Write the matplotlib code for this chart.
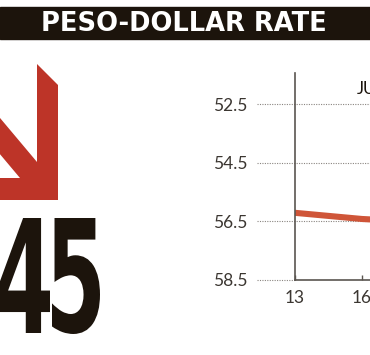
import matplotlib
matplotlib.use("Agg")
import matplotlib.pyplot as plt
from matplotlib.patches import Polygon, PathPatch, Rectangle
from matplotlib.textpath import TextPath
from matplotlib.font_manager import FontProperties
from matplotlib.transforms import Affine2D

# data
days = [13, 16, 17]
rate = [56.21, 56.42, 56.46]
y_ticks = [52.5, 54.5, 56.5, 58.5]
x_ticks = [13, 16]
title = "PESO-DOLLAR RATE"
month = "JUNE"
big_digits = ["4", "5"]

W, H = 370, 355
RED = "#bd3428"
LINE_RED = "#cf5538"
DARK = "#1c140c"
GRAY_TXT = "#3b3631"

fig = plt.figure(figsize=(W / 100, H / 100), dpi=100)

# overlay in pixel coords for decorations
deco = fig.add_axes([0, 0, 1, 1], zorder=0)
deco.set_xlim(0, W)
deco.set_ylim(H, 0)
deco.axis("off")

deco.add_patch(Rectangle((0, 7), W, 32, color=DARK))
deco.text(184, 24, title, color="white", fontsize=18.5, fontweight="bold",
          family="DejaVu Sans", ha="center", va="center")

# big arrow
s = 1.19
arrow = [(-30, 162 - 67 * s), (37, 162), (37, 64), (58, 85), (58, 200),
         (-30, 200), (-30, 178), (20, 178), (-30, 178 - 50 * s)]
deco.add_patch(Polygon(arrow, closed=True, color=RED, lw=0))

# big condensed digits, squeezed from a bold font
fp = FontProperties(family="DejaVu Sans", weight="bold")
boxes = [(-2, 50, 218, 333), (52, 100, 218, 334)]
for ch, (x0, x1, y0, y1) in zip(big_digits, boxes):
    tp = TextPath((0, 0), ch, prop=fp, size=1)
    ext = tp.get_extents()
    sx = (x1 - x0) / ext.width
    sy = (y1 - y0) / ext.height
    tr = Affine2D().translate(-ext.x0, -ext.y0).scale(sx, -sy).translate(x0, y1)
    deco.add_patch(PathPatch(tr.transform_path(tp), color=DARK, lw=0))

deco.text(357, 94, month, color=DARK, fontsize=12, family="Lato",
          ha="left", va="baseline")

# chart
ax = fig.add_axes([295 / W, 1 - 280 / H, 75 / W, 207 / H], zorder=1)
ax.patch.set_alpha(0)
ax.plot(days, rate, color=LINE_RED, lw=4.4, solid_capstyle="butt", clip_on=True)
ax.set_xlim(13, 13 + 75 / 22.33)
ax.set_ylim(58.5, 52.5 - 31 / 29.33)

for v in y_ticks:
    xmax = 0 if v == 58.5 else 1
    ax.axhline(v, xmin=-0.507, xmax=xmax, color="#8a8580", lw=0.8,
               ls=(0, (1, 1.2)), clip_on=False, zorder=0)

ax.set_yticks(y_ticks)
ax.set_yticklabels([f"{v}" for v in y_ticks])
ax.set_xticks(x_ticks)
ax.tick_params(axis="y", length=0, pad=34.5, labelsize=12.5, labelcolor=GRAY_TXT)
ax.tick_params(axis="x", direction="in", length=3.5, width=1, color="#5a5550",
               pad=7, labelsize=12.5, labelcolor=GRAY_TXT)
for lab in ax.get_xticklabels() + ax.get_yticklabels():
    lab.set_family("Lato")

for sp in ["top", "right"]:
    ax.spines[sp].set_visible(False)
for sp in ["left", "bottom"]:
    ax.spines[sp].set_color("#5a5550")
    ax.spines[sp].set_linewidth(1.2)

fig.savefig("out.png", dpi=100)
